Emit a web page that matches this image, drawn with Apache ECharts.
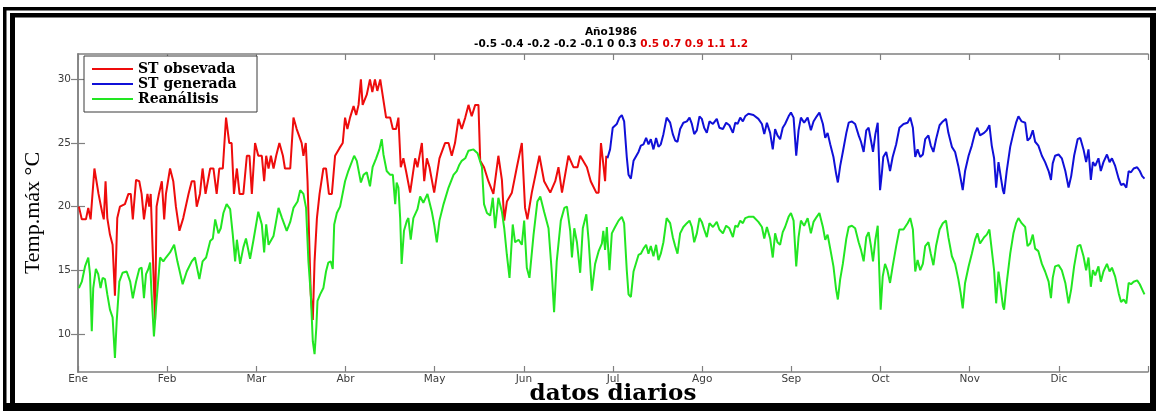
<!DOCTYPE html>
<html>
<head>
<meta charset="utf-8">
<title>Año1986</title>
<script src="https://cdn.jsdelivr.net/npm/echarts@6/dist/echarts.min.js"></script>
<style>
  html, body { margin: 0; padding: 0; background: #fff; }
  #chart { width: 1156px; height: 411px; }
</style>
</head>
<body>
<div id="chart"></div>
<script>
// Daily maximum temperature, 1986 (day of year, °C)
const months = ['Ene', 'Feb', 'Mar', 'Abr', 'May', 'Jun', 'Jul', 'Ago', 'Sep', 'Oct', 'Nov', 'Dic'];
const yTicks = [10, 15, 20, 25, 30];
const anomaliesLow = '-0.5 -0.4 -0.2 -0.2 -0.1 0 0.3';
const anomaliesHigh = '0.5 0.7 0.9 1.1 1.2';

// Observed station series (Jan–Jun)
const obsDays = [
  0.3, 1.3, 2.7, 3.5, 4.3, 5.6, 7.0, 8.2, 8.8, 9.4, 10.0, 10.9, 11.8, 12.6, 13.4, 14.3, 16.0, 17.2, 18.0, 18.7,
  19.8, 20.9, 21.7, 22.5, 23.7, 24.3, 24.8, 26.3, 26.8, 27.6, 28.6, 29.4, 30.0, 31.4, 32.5, 33.4, 34.6, 35.9, 37.7, 38.8,
  39.7, 40.5, 41.6, 42.5, 43.5, 45.1, 46.2, 47.3, 48.2, 49.4, 50.5, 51.6, 52.4, 53.2, 54.2, 55.1, 56.4, 57.6, 58.5, 59.3,
  60.4, 61.5, 62.7, 63.5, 64.2, 65.0, 65.8, 66.7, 67.6, 68.7, 69.9, 70.6, 72.4, 73.5, 74.6, 76.3, 76.9, 77.7, 78.3, 79.4,
  80.1, 80.7, 81.5, 82.4, 83.7, 84.6, 85.6, 86.6, 87.7, 89.2, 90.3, 91.1, 91.9, 92.8, 94.0, 94.9, 95.7, 96.5, 97.1, 98.5,
  99.6, 100.4, 101.3, 102.1, 103.1, 103.6, 105.1, 106.5, 107.4, 108.5, 109.3, 110.1, 111.0, 111.9, 113.3, 115.0, 115.8, 117.3, 118.1, 119.0,
  119.9, 121.5, 123.3, 125.2, 126.4, 127.5, 128.6, 129.8, 130.9, 132.1, 133.2, 134.3, 135.5, 136.6, 137.2, 138.5, 140.0, 141.7, 143.4, 144.6,
  145.4, 146.3, 148.0, 149.7, 151.4, 152.5, 153.3, 154.8, 157.4, 159.0, 161.1, 162.8, 163.9, 165.1, 167.3, 169.0, 170.4, 171.3, 173.6, 174.9,
  176.8, 177.6, 178.4, 179.3, 179.8, 180.2
];
const obsTemp = [
  20.0, 19.0, 19.0, 19.9, 19.0, 23.0, 21.0, 19.6, 19.0, 22.0, 19.1, 17.8, 17.0, 13.0, 19.1, 20.0, 20.2, 21.0, 21.0, 19.0,
  22.1, 22.0, 21.0, 19.0, 21.0, 20.0, 21.0, 11.1, 20.0, 21.0, 22.0, 19.0, 21.0, 23.0, 22.0, 20.0, 18.1, 19.1, 21.0, 22.0,
  22.0, 20.0, 21.0, 23.0, 21.0, 23.0, 23.0, 21.0, 23.0, 23.0, 27.0, 25.0, 25.0, 21.0, 23.0, 21.0, 21.0, 24.0, 24.0, 21.0,
  25.0, 24.0, 24.0, 22.0, 24.0, 23.0, 24.0, 23.0, 24.0, 25.0, 24.0, 23.0, 23.0, 27.0, 26.1, 25.0, 24.0, 25.0, 22.0, 13.1,
  11.1, 15.7, 19.1, 21.0, 23.0, 23.0, 21.0, 21.0, 24.0, 24.6, 25.0, 27.0, 26.1, 27.0, 27.9, 27.2, 28.0, 30.0, 28.0, 28.8,
  30.0, 29.0, 30.0, 29.1, 30.0, 29.9, 27.0, 27.0, 26.1, 26.1, 27.0, 23.1, 23.8, 22.8, 21.1, 23.8, 23.1, 25.0, 22.0, 23.8,
  23.1, 21.1, 23.8, 25.0, 25.0, 24.0, 25.0, 26.9, 26.1, 27.0, 28.0, 27.1, 28.0, 28.0, 23.6, 23.1, 22.0, 21.0, 24.0, 22.1,
  18.9, 20.4, 21.1, 23.1, 25.0, 19.9, 19.0, 21.1, 24.0, 22.0, 21.1, 22.0, 23.1, 21.1, 24.0, 23.1, 23.1, 24.0, 23.1, 22.0,
  21.1, 21.1, 25.0, 23.1, 22.0, 24.0
];

// Generated station series (Jul–Dec)
const genDays = [
  180.6, 181.5, 182.4, 183.8, 184.7, 185.5, 186.3, 187.2, 187.8, 188.6, 189.5, 191.2, 192.0, 192.9, 193.8, 194.6, 195.4, 196.3, 197.2, 198.0,
  198.8, 199.7, 200.8, 202.0, 202.9, 203.7, 204.5, 205.4, 206.5, 207.7, 208.6, 209.4, 210.2, 211.1, 212.0, 212.8, 213.6, 214.5, 215.4, 216.6,
  217.9, 218.8, 220.0, 221.1, 222.2, 223.4, 224.2, 225.0, 225.9, 226.8, 227.6, 228.7, 230.4, 232.1, 233.3, 234.1, 235.0, 236.1, 237.0, 237.8,
  238.6, 239.5, 240.4, 241.2, 242.4, 243.2, 244.1, 245.0, 245.8, 246.6, 247.7, 248.9, 250.0, 250.9, 252.0, 252.9, 254.1, 254.9, 255.7, 256.6,
  257.7, 258.6, 259.2, 260.0, 260.9, 262.1, 262.9, 264.0, 265.1, 266.3, 267.1, 268.0, 268.9, 269.7, 270.5, 271.2, 272.0, 272.8, 273.6, 274.2,
  274.7, 275.7, 276.5, 277.0, 277.9, 279.1, 280.2, 281.6, 283.0, 283.9, 284.8, 285.6, 286.4, 287.3, 288.2, 289.0, 290.1, 290.9, 291.8, 292.7,
  293.9, 295.0, 296.1, 296.9, 298.1, 299.2, 300.3, 301.1, 301.8, 302.6, 303.8, 304.9, 306.0, 306.8, 307.7, 309.1, 310.0, 310.9, 311.7, 312.5,
  313.2, 314.0, 314.8, 315.5, 315.9, 316.8, 318.0, 319.1, 320.0, 320.8, 321.9, 323.1, 323.9, 324.8, 325.7, 326.5, 327.6, 328.8, 329.9, 331.1,
  331.9, 332.5, 333.3, 334.5, 335.6, 336.8, 337.9, 338.8, 339.8, 341.0, 341.9, 343.0, 343.9, 344.7, 345.5, 346.2, 347.0, 348.1, 348.9, 349.8,
  351.0, 351.9, 352.7, 353.8, 355.0, 355.8, 356.7, 357.6, 358.4, 359.2, 360.1, 361.3, 362.2, 363.0, 363.8
];
const genTemp = [
  23.8, 24.5, 26.2, 26.5, 27.0, 27.2, 26.7, 23.9, 22.5, 22.2, 23.6, 24.3, 24.8, 24.9, 25.4, 24.9, 25.3, 24.5, 25.4, 24.7,
  24.9, 25.7, 27.0, 26.6, 25.7, 25.2, 25.1, 26.1, 26.6, 26.7, 27.0, 26.5, 25.7, 26.0, 27.1, 26.9, 26.2, 25.8, 26.7, 26.5,
  26.9, 26.2, 26.1, 26.6, 26.4, 25.8, 26.6, 26.5, 27.0, 26.7, 27.1, 27.3, 27.2, 26.9, 26.5, 25.7, 26.6, 25.8, 24.5, 26.1,
  25.6, 25.3, 26.2, 26.5, 27.1, 27.4, 27.0, 24.0, 26.0, 27.0, 26.6, 27.0, 26.0, 26.7, 27.1, 27.4, 26.5, 25.4, 25.8, 24.9,
  23.9, 22.6, 21.9, 23.2, 24.3, 25.8, 26.6, 26.7, 26.5, 25.6, 25.1, 24.3, 26.0, 26.2, 25.2, 24.3, 25.7, 26.6, 21.3, 22.6,
  23.9, 24.3, 23.4, 22.8, 23.9, 24.9, 26.2, 26.5, 26.6, 27.0, 26.2, 23.9, 24.5, 23.9, 24.1, 25.3, 25.6, 24.8, 24.3, 25.3,
  26.4, 26.7, 26.9, 25.8, 24.7, 24.3, 23.2, 22.2, 21.3, 22.8, 24.0, 24.8, 25.8, 26.2, 25.6, 25.8, 26.0, 26.4, 24.8, 23.8,
  21.5, 23.5, 22.3, 21.3, 21.0, 22.8, 24.7, 25.8, 26.6, 27.1, 26.7, 26.6, 25.2, 25.4, 26.0, 25.1, 24.8, 24.0, 23.5, 22.8,
  22.1, 23.4, 24.0, 24.1, 23.8, 22.8, 21.5, 22.4, 24.0, 25.3, 25.4, 24.5, 23.5, 24.5, 22.1, 23.5, 23.2, 23.8, 22.8, 23.5,
  24.1, 23.5, 23.8, 23.2, 22.2, 21.7, 21.8, 21.5, 22.8, 22.7, 23.0, 23.1, 22.8, 22.4, 22.2
];

// Reanalysis series (whole year)
const reaDays = [
  0.3, 1.3, 2.4, 3.5, 4.1, 4.7, 5.2, 6.1, 6.9, 7.7, 8.4, 9.2, 10.0, 10.9, 11.8, 12.6, 13.2, 14.1, 15.2, 16.6,
  17.8, 18.7, 19.8, 20.9, 21.7, 22.5, 23.2, 24.0, 24.6, 25.1, 25.9, 26.8, 28.0, 29.1, 30.0, 31.4, 32.8, 33.9, 35.7, 37.1,
  38.8, 39.9, 41.4, 42.5, 43.7, 45.1, 46.0, 46.8, 47.9, 48.7, 49.6, 50.7, 51.9, 52.8, 53.6, 54.2, 55.3, 56.4, 57.3, 58.7,
  59.8, 61.5, 62.7, 63.5, 64.2, 65.0, 66.7, 68.4, 69.6, 71.2, 72.4, 73.5, 74.9, 75.8, 76.9, 77.8, 78.6, 79.4, 80.1, 80.7,
  81.3, 81.7, 82.6, 83.7, 84.6, 85.4, 86.2, 86.9, 87.4, 88.3, 89.4, 91.1, 92.2, 94.2, 95.1, 96.5, 97.4, 98.5, 99.6, 100.5,
  101.7, 102.8, 103.6, 104.2, 105.3, 106.5, 107.4, 108.2, 108.7, 109.3, 109.9, 110.4, 111.2, 112.2, 112.7, 113.5, 114.4, 115.8, 116.7, 117.8,
  119.2, 120.7, 121.5, 122.4, 123.3, 124.7, 126.4, 128.1, 129.2, 130.1, 130.9, 132.1, 133.2, 134.9, 136.3, 137.8, 138.5, 139.5, 140.6, 141.5,
  142.3, 143.4, 144.6, 145.4, 146.3, 147.2, 148.3, 149.1, 150.3, 151.4, 152.2, 153.1, 154.0, 155.4, 156.7, 157.7, 159.0, 160.5, 161.6, 162.4,
  163.3, 164.7, 165.9, 166.8, 167.9, 168.5, 169.3, 170.2, 171.3, 172.2, 173.4, 174.2, 175.3, 176.4, 177.6, 178.7, 179.2, 179.8, 180.4, 181.3,
  182.1, 183.2, 184.4, 185.5, 186.3, 187.2, 187.8, 188.6, 189.5, 191.2, 192.0, 192.9, 193.8, 194.6, 195.4, 196.3, 197.2, 198.0, 198.8, 199.7,
  200.8, 202.0, 202.9, 203.7, 204.5, 205.4, 206.5, 207.7, 208.6, 209.4, 210.2, 211.1, 212.0, 212.8, 213.6, 214.5, 215.4, 216.6, 217.9, 218.8,
  220.0, 221.1, 222.2, 223.4, 224.2, 225.0, 225.9, 226.8, 227.6, 228.7, 230.4, 232.1, 233.3, 234.1, 235.0, 236.1, 237.0, 237.8, 238.6, 239.5,
  240.4, 241.2, 242.4, 243.2, 244.1, 245.0, 245.8, 246.6, 247.7, 248.9, 250.0, 250.9, 252.0, 252.9, 254.1, 254.9, 255.7, 256.6, 257.7, 258.6,
  259.2, 260.0, 260.9, 262.1, 262.9, 264.0, 265.1, 266.3, 267.1, 268.0, 268.9, 269.7, 270.5, 271.2, 272.0, 272.8, 273.8, 274.5, 275.3, 276.1,
  277.0, 277.9, 279.1, 280.2, 281.6, 283.0, 283.9, 284.8, 285.6, 286.4, 287.3, 288.2, 289.0, 290.1, 290.9, 291.8, 292.7, 293.9, 295.0, 296.1,
  296.9, 298.1, 299.2, 300.3, 301.1, 301.8, 302.6, 303.8, 304.9, 306.0, 306.8, 307.7, 309.1, 310.0, 310.9, 311.7, 312.5, 313.2, 314.0, 314.8,
  315.5, 315.9, 316.8, 318.0, 319.1, 320.0, 320.8, 321.9, 323.1, 323.9, 324.8, 325.7, 326.5, 327.6, 328.8, 329.9, 331.1, 331.9, 332.5, 333.3,
  334.5, 335.6, 336.8, 337.9, 338.8, 339.8, 341.0, 341.9, 343.0, 343.9, 344.7, 345.5, 346.2, 347.0, 348.1, 348.9, 349.8, 351.0, 351.9, 352.7,
  353.8, 355.0, 355.8, 356.7, 357.6, 358.4, 359.2, 360.1, 361.3, 362.2, 363.0, 363.8
];
const reaTemp = [
  13.6, 14.1, 15.3, 16.0, 14.7, 10.2, 13.6, 15.1, 14.7, 13.6, 14.4, 14.3, 13.1, 11.9, 11.3, 8.1, 11.0, 14.1, 14.8, 14.9,
  14.1, 12.8, 14.1, 15.1, 15.2, 12.8, 14.7, 15.1, 15.6, 13.1, 9.8, 12.6, 16.0, 15.7, 16.0, 16.4, 17.0, 15.7, 13.9, 14.9,
  15.7, 16.0, 14.3, 15.7, 16.0, 17.3, 17.5, 19.0, 17.9, 18.3, 19.5, 20.2, 19.8, 17.8, 15.7, 17.4, 15.5, 16.8, 17.5, 15.9,
  17.3, 19.6, 18.6, 16.4, 18.6, 17.0, 17.7, 19.9, 19.1, 18.1, 18.8, 19.9, 20.4, 21.3, 21.0, 19.9, 15.7, 13.1, 9.4, 8.4,
  10.5, 12.6, 13.1, 13.6, 14.9, 15.6, 15.7, 15.1, 18.6, 19.5, 20.0, 22.0, 22.8, 24.0, 23.6, 21.9, 22.5, 22.7, 21.6, 23.1,
  23.8, 24.5, 25.3, 24.1, 22.8, 22.5, 22.5, 20.2, 21.9, 21.5, 19.1, 15.5, 18.1, 18.9, 19.1, 17.4, 19.1, 19.8, 20.8, 20.3,
  21.0, 19.6, 18.6, 17.2, 18.9, 20.2, 21.5, 22.5, 22.8, 23.3, 23.6, 23.8, 24.4, 24.5, 24.2, 23.1, 20.2, 19.5, 19.3, 20.7,
  18.3, 20.7, 19.6, 18.3, 16.2, 14.4, 18.6, 17.2, 17.4, 17.0, 18.9, 15.2, 14.4, 17.8, 20.4, 20.8, 19.6, 18.3, 14.9, 11.7,
  15.7, 18.9, 19.9, 20.0, 18.1, 16.0, 18.3, 17.2, 14.8, 18.3, 19.4, 17.3, 13.4, 15.5, 16.5, 17.1, 18.1, 16.6, 18.4, 15.0,
  17.9, 18.4, 18.9, 19.2, 18.7, 15.0, 13.1, 12.9, 14.9, 16.2, 16.3, 16.7, 17.0, 16.3, 16.9, 16.1, 17.0, 15.8, 16.3, 17.2,
  19.1, 18.7, 17.6, 16.9, 16.3, 17.9, 18.4, 18.7, 18.9, 18.4, 17.2, 17.9, 19.1, 18.8, 18.2, 17.6, 18.7, 18.4, 18.8, 18.2,
  17.9, 18.5, 18.3, 17.6, 18.5, 18.4, 18.9, 18.7, 19.1, 19.2, 19.2, 18.8, 18.4, 17.5, 18.4, 17.5, 16.0, 17.9, 17.2, 17.0,
  18.0, 18.4, 19.2, 19.5, 18.9, 15.3, 17.6, 18.9, 18.5, 19.1, 17.9, 18.8, 19.2, 19.5, 18.4, 17.4, 17.8, 16.7, 15.3, 13.5,
  12.7, 14.3, 15.5, 17.5, 18.4, 18.5, 18.3, 17.2, 16.6, 15.7, 17.6, 18.0, 16.9, 15.7, 17.4, 18.5, 11.9, 14.5, 15.5, 15.0,
  14.0, 15.3, 16.9, 18.2, 18.2, 18.7, 19.1, 18.2, 14.9, 15.8, 15.0, 15.5, 16.9, 17.2, 16.3, 15.4, 16.9, 18.2, 18.7, 18.9,
  17.6, 16.1, 15.5, 14.3, 13.2, 12.0, 14.0, 15.3, 16.3, 17.4, 17.9, 17.1, 17.6, 17.8, 18.2, 16.6, 15.0, 12.4, 14.9, 13.5,
  12.2, 11.9, 14.0, 16.3, 17.9, 18.7, 19.1, 18.7, 18.4, 16.9, 17.1, 17.8, 16.7, 16.5, 15.5, 14.9, 14.1, 12.8, 14.4, 15.3,
  15.4, 15.0, 14.0, 12.4, 13.5, 15.3, 16.9, 17.0, 16.1, 15.0, 16.0, 13.7, 15.0, 14.6, 15.3, 14.1, 14.9, 15.5, 14.9, 15.2,
  14.5, 13.2, 12.5, 12.7, 12.4, 14.0, 13.9, 14.1, 14.2, 13.9, 13.5, 13.1
];

const DAYS = 365;
const monthStep = DAYS / 12;

const pairs = (xs, ys) => xs.map((x, i) => [x, ys[i]]);

const axisGrey = '#808080';
const tickFont = { fontFamily: 'DejaVu Sans', fontSize: 10.5, color: '#3c3c3c' };

const chart = echarts.init(document.getElementById('chart'), null, { renderer: 'canvas' });

chart.setOption({
  animation: false,
  backgroundColor: '#ffffff',
  title: {
    text: 'Año1986',
    subtext: '{k|' + anomaliesLow + '} {r|' + anomaliesHigh + '}',
    left: 611,
    top: 27,
    textAlign: 'center',
    itemGap: 1,
    padding: 0,
    textStyle: { fontFamily: 'DejaVu Sans', fontWeight: 'bold', fontSize: 10.5, color: '#000', lineHeight: 11 },
    subtextStyle: {
      fontFamily: 'DejaVu Sans', fontWeight: 'bold', fontSize: 10.5, lineHeight: 11,
      rich: {
        k: { fontFamily: 'DejaVu Sans', fontWeight: 'bold', fontSize: 10.5, color: '#000' },
        r: { fontFamily: 'DejaVu Sans', fontWeight: 'bold', fontSize: 10.5, color: '#e00000' }
      }
    }
  },
  legend: {
    orient: 'vertical',
    left: 84,
    top: 56,
    padding: [6, 6, 6, 8],
    itemGap: 1,
    itemWidth: 41,
    itemHeight: 2,
    icon: 'rect',
    backgroundColor: '#fff',
    borderColor: '#3a3a3a',
    borderWidth: 1,
    borderRadius: 0,
    textStyle: { fontFamily: 'DejaVu Serif', fontWeight: 'bold', fontSize: 14, lineHeight: 14, color: '#000', width: 113 },
    data: ['ST obsevada', 'ST generada', 'Reanálisis']
  },
  grid: { left: 78, right: 8, top: 54, bottom: 39, containLabel: false, outerBoundsMode: 'none' },
  xAxis: [
    {
      type: 'value', min: 0, max: DAYS, interval: monthStep, position: 'bottom',
      axisLine: { lineStyle: { color: axisGrey, width: 1.5 } },
      axisTick: { inside: true, length: 6, lineStyle: { color: axisGrey, width: 1.2 } },
      axisLabel: Object.assign({ margin: 2, formatter: v => months[Math.round(v / monthStep)] || '' }, tickFont),
      splitLine: { show: false },
      name: 'datos diarios', nameLocation: 'middle', nameGap: 11, nameMoveOverlap: false,
      nameTextStyle: { fontFamily: 'DejaVu Serif', fontWeight: 'bold', fontSize: 23, color: '#000' }
    },
    {
      type: 'value', min: 0, max: DAYS, interval: monthStep, position: 'top',
      axisLine: { lineStyle: { color: axisGrey, width: 1.5 } },
      axisTick: { inside: true, length: 6, lineStyle: { color: axisGrey, width: 1.2 } },
      axisLabel: { show: false },
      splitLine: { show: false }
    }
  ],
  yAxis: [
    {
      type: 'value', min: 7, max: 32, position: 'left',
      axisLine: { show: true, lineStyle: { color: axisGrey, width: 1.5 } },
      axisTick: { show: true, inside: true, length: 7, customValues: yTicks, lineStyle: { color: axisGrey, width: 1.2 } },
      axisLabel: Object.assign({ margin: 7, customValues: yTicks }, tickFont),
      splitLine: { show: false },
      name: 'Temp.máx °C', nameLocation: 'middle', nameGap: 34, nameRotate: 90, nameMoveOverlap: false,
      nameTextStyle: { fontFamily: 'Liberation Serif', fontSize: 22, color: '#000' }
    },
    {
      type: 'value', min: 7, max: 32, position: 'right',
      axisLine: { show: true, lineStyle: { color: axisGrey, width: 1.5 } },
      axisTick: { show: true, inside: true, length: 7, customValues: yTicks, lineStyle: { color: axisGrey, width: 1.2 } },
      axisLabel: { show: false },
      splitLine: { show: false }
    }
  ],
  series: [
    {
      name: 'ST obsevada', type: 'line', data: pairs(obsDays, obsTemp),
      showSymbol: false, symbol: 'none', color: '#ee0c0c',
      lineStyle: { width: 2, color: '#ee0c0c' }
    },
    {
      name: 'ST generada', type: 'line', data: pairs(genDays, genTemp),
      showSymbol: false, symbol: 'none', color: '#1010d8',
      lineStyle: { width: 2, color: '#1010d8' }
    },
    {
      name: 'Reanálisis', type: 'line', data: pairs(reaDays, reaTemp),
      showSymbol: false, symbol: 'none', color: '#22e622',
      lineStyle: { width: 2, color: '#22e622' }
    }
  ],
  graphic: [
    // double black frame around the figure
    { type: 'rect', shape: { x: 3, y: 7, width: 1153, height: 3.5 }, style: { fill: '#000' }, silent: true },
    { type: 'rect', shape: { x: 3, y: 7, width: 3.5, height: 404 }, style: { fill: '#000' }, silent: true },
    { type: 'rect', shape: { x: 10, y: 13, width: 1146, height: 4.5 }, style: { fill: '#000' }, silent: true },
    { type: 'rect', shape: { x: 10, y: 13, width: 5, height: 398 }, style: { fill: '#000' }, silent: true },
    { type: 'rect', shape: { x: 1150, y: 13, width: 6, height: 398 }, style: { fill: '#000' }, silent: true },
    { type: 'rect', shape: { x: 3, y: 403, width: 1153, height: 8 }, style: { fill: '#000' }, silent: true }
  ]
});
</script>
</body>
</html>
